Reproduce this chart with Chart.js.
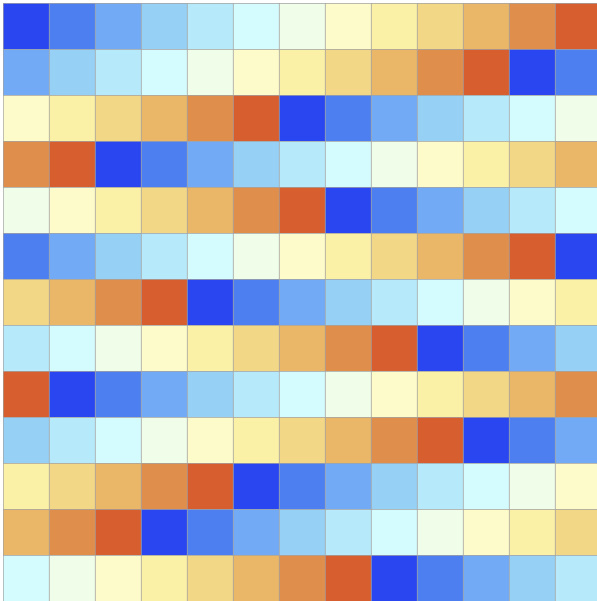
<!DOCTYPE html>
<html>
<head>
<meta charset="utf-8">
<script src="https://cdn.jsdelivr.net/npm/chart.js@4"></script>
<style>
html,body{margin:0;padding:0;overflow:hidden;background:#fff;}
#wrap{position:absolute;left:0;top:0;width:604px;height:604px;}
</style>
</head>
<body>
<div id="wrap"><canvas id="c" width="604" height="604"></canvas></div>
<script>
const columns = ["0","1","2","3","4","5","6","7","8","9","10","11","12"];
const rows = ["0","1","2","3","4","5","6","7","8","9","10","11","12"];
const palette = ["#2a46f0","#4d7ff0","#72aaf5","#96d0f5","#b6eafb","#d4fbfe","#f0fde9",
                 "#fefbcb","#faf0a6","#f2d786","#e9b767","#e08e4b","#d75e2f"];
const values = [
  [0,1,2,3,4,5,6,7,8,9,10,11,12],
  [2,3,4,5,6,7,8,9,10,11,12,0,1],
  [7,8,9,10,11,12,0,1,2,3,4,5,6],
  [11,12,0,1,2,3,4,5,6,7,8,9,10],
  [6,7,8,9,10,11,12,0,1,2,3,4,5],
  [1,2,3,4,5,6,7,8,9,10,11,12,0],
  [9,10,11,12,0,1,2,3,4,5,6,7,8],
  [4,5,6,7,8,9,10,11,12,0,1,2,3],
  [12,0,1,2,3,4,5,6,7,8,9,10,11],
  [3,4,5,6,7,8,9,10,11,12,0,1,2],
  [8,9,10,11,12,0,1,2,3,4,5,6,7],
  [10,11,12,0,1,2,3,4,5,6,7,8,9],
  [5,6,7,8,9,10,11,12,0,1,2,3,4]
];

const datasets = rows.map((r, ri) => ({
  label: r,
  data: columns.map((c) => [ri, ri + 1]),
  backgroundColor: values[ri].map(v => palette[v]),
  borderColor: "#a3a3a3",
  borderWidth: {top: 1, left: 1, right: 0, bottom: 0},
  borderSkipped: false,
  barPercentage: 1,
  categoryPercentage: 1,
  grouped: false
}));

new Chart(document.getElementById("c"), {
  type: "bar",
  data: {labels: columns, datasets},
  options: {
    responsive: false,
    animation: false,
    layout: {padding: {left: 3, top: 3, right: 3, bottom: 3}},
    plugins: {legend: {display: false}, tooltip: {enabled: false}},
    scales: {
      x: {display: false, offset: true, grid: {display: false}},
      y: {display: false, min: 0, max: 13, reverse: true, grid: {display: false}}
    }
  }
});
</script>
</body>
</html>
